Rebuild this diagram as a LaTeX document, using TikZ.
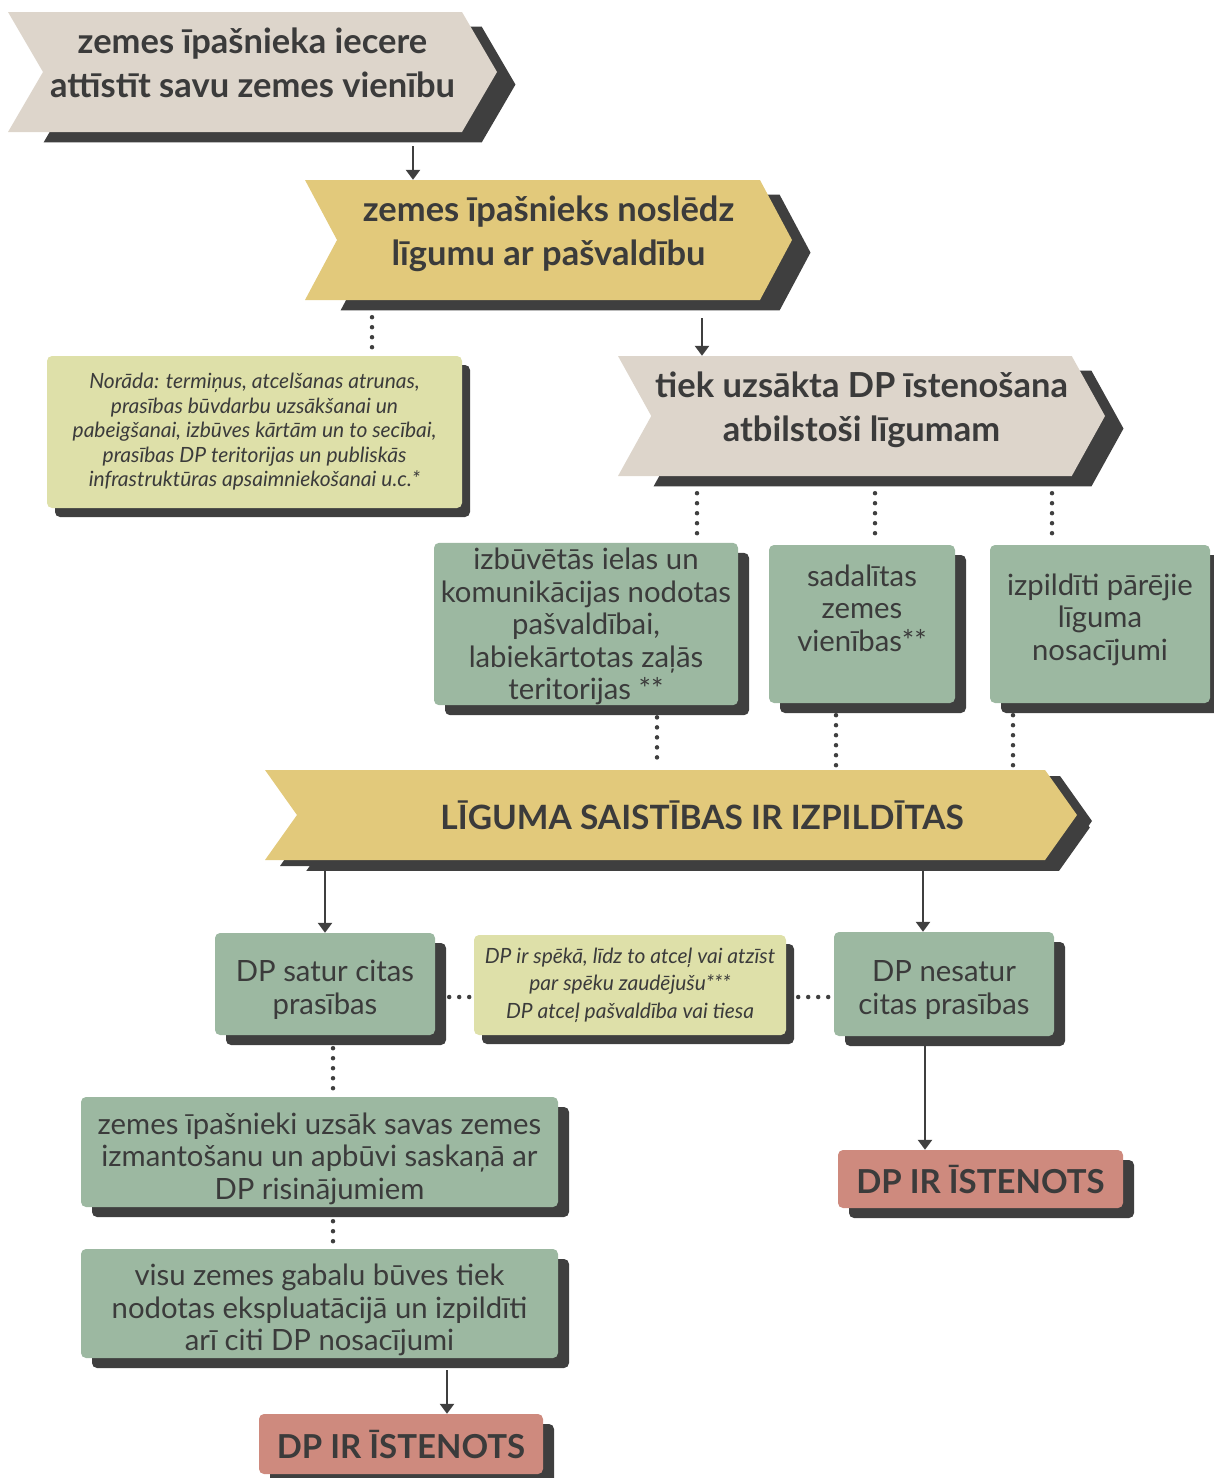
\documentclass[tikz,border=0pt]{standalone}
\usepackage{fontspec}
\setmainfont{Lato}
\usetikzlibrary{shapes.symbols,shadows,arrows.meta}
\definecolor{ink}{HTML}{3B3B3B}
\definecolor{shade}{HTML}{3F3F3F}
\definecolor{sand}{HTML}{DDD5CB}
\definecolor{gold}{HTML}{E2C97B}
\definecolor{sage}{HTML}{9CB8A1}
\definecolor{lime}{HTML}{DEE0A9}
\definecolor{rose}{HTML}{CE8A7E}
\begin{document}
\begin{tikzpicture}[x=1pt, y=-1pt,
  every node/.style={text=ink, inner sep=0pt, align=center},
  chev/.style={signal, signal from=west, signal to=east, text depth=19pt, font=\bfseries\fontsize{34.5}{44}\selectfont,
    general shadow={fill=shade, shadow scale=0.965, shadow xshift=28pt, shadow yshift=-13pt}},
  box/.style={rectangle, rounded corners=5pt, fill=sage, font=\fontsize{29.3}{32.5}\selectfont,
    general shadow={fill=shade, shadow xshift=11pt, shadow yshift=-10pt}},
  note/.style={rectangle, rounded corners=5pt, fill=lime, font=\itshape\fontsize{21}{24.5}\selectfont,
    general shadow={fill=shade, shadow xshift=8pt, shadow yshift=-9pt}},
  done/.style={box, fill=rose, font=\bfseries\fontsize{33}{38}\selectfont},
  arr/.style={draw=shade, line width=2.5pt, -{Triangle[width=14pt,length=10pt]}},
  dotline/.style={draw=shade, line width=4.5pt, line cap=round, dash pattern=on 0pt off 10pt}]
\useasboundingbox (0,0) rectangle (1213,1478);

% chevrons
\node[chev, fill=sand, minimum width=489pt, minimum height=120pt, signal pointer angle=119.5] (c1) at (252.5,72)
  {zemes īpašnieka iecere\\attīstīt savu zemes vienību};
\node[chev, fill=gold, minimum width=487pt, minimum height=120pt, signal pointer angle=123.8] (c2) at (548.5,240)
  {zemes īpašnieks noslēdz\\līgumu ar pašvaldību};
\node[chev, fill=sand, minimum width=487pt, minimum height=120pt, signal pointer angle=122] (c3) at (861.5,416)
  {tiek uzsākta DP īstenošana\\atbilstoši līgumam};
\node[chev, fill=gold, minimum width=812pt, minimum height=90pt, signal pointer angle=109.2,
  general shadow={fill=shade, shadow xshift=15pt, shadow yshift=-6pt},
  label={[font=\bfseries\fontsize{33.5}{38}\selectfont, xshift=31pt]center:LĪGUMA SAISTĪBAS IR IZPILDĪTAS}] (c4) at (671,815) {};

% notes
\node[note, minimum width=415pt, minimum height=152pt] (n1) at (254.5,432)
  {Norāda: termiņus, atcelšanas atrunas,\\prasības būvdarbu uzsākšanai un\\pabeigšanai, izbūves kārtām un to secībai,\\prasības DP teritorijas un publiskās\\infrastruktūras apsaimniekošanai u.c.*};
\node[note, minimum width=312pt, minimum height=100pt, font=\itshape\fontsize{21}{27.5}\selectfont] (n2) at (630,985)
  {DP ir spēkā, līdz to atceļ vai atzīst\\par spēku zaudējušu***\\DP atceļ pašvaldība vai tiesa};

% boxes
\node[box, minimum width=304pt, minimum height=158pt, text height=157pt] (g1) at (586,624)
  {izbūvētās ielas un\\komunikācijas nodotas\\pašvaldībai,\\labiekārtotas zaļās\\teritorijas **};
\node[box, minimum width=186pt, minimum height=158pt] (g2) at (862,624)
  {sadalītas\\zemes\\vienības**\\\mbox{}};
\node[box, minimum width=220pt, minimum height=158pt, text depth=14pt] (g3) at (1100,624)
  {izpildīti pārējie\\līguma\\nosacījumi};
\node[box, minimum width=220pt, minimum height=102pt, text height=65.5pt] (g4) at (325,984)
  {DP satur citas\\prasības};
\node[box, minimum width=220pt, minimum height=104pt, text height=65.5pt] (g5) at (944,984)
  {DP nesatur\\citas prasības};
\node[box, minimum width=477pt, minimum height=110pt, text height=100pt] (g6) at (319.5,1152)
  {zemes īpašnieki uzsāk savas zemes\\izmantošanu un apbūvi saskaņā ar\\DP risinājumiem};
\node[box, minimum width=477pt, minimum height=109pt, text height=100pt] (g7) at (319.5,1303.5)
  {visu zemes gabalu būves tiek\\nodotas ekspluatācijā un izpildīti\\arī citi DP nosacījumi};
\node[done, minimum width=284pt, minimum height=60pt] (r1) at (401,1444) {DP IR ĪSTENOTS};
\node[done, minimum width=285pt, minimum height=58pt] (r2) at (980.5,1179) {DP IR ĪSTENOTS};

% arrows
\draw[arr] ([xshift=160.5pt,yshift=-14pt]c1.south) -- ([xshift=-135.5pt]c2.north);
\draw[arr] ([xshift=153.5pt,yshift=-18pt]c2.south) -- ([xshift=-159.5pt]c3.north);
\draw[arr] ([xshift=-346pt,yshift=-6pt]c4.south) -- (g4.north);
\draw[arr] ([xshift=252pt,yshift=-6pt]c4.south) -- ([xshift=-21pt]g5.north);
\draw[arr] ([xshift=127.5pt,yshift=-12pt]g7.south) -- ([xshift=46pt]r1.north);
\draw[arr] ([xshift=-19pt,yshift=-10pt]g5.south) -- ([xshift=-55.5pt]r2.north);

% dotted links
\draw[dotline] ([xshift=-176.5pt,yshift=-17pt]c2.south) -- ([xshift=117.5pt,yshift=4pt]n1.north);
\draw[dotline] ([xshift=-164.5pt,yshift=-17pt]c3.south) -- ([xshift=111pt,yshift=4pt]g1.north);
\draw[dotline] ([xshift=13.5pt,yshift=-17pt]c3.south) -- ([xshift=13pt,yshift=4pt]g2.north);
\draw[dotline] ([xshift=190.5pt,yshift=-17pt]c3.south) -- ([xshift=-48pt,yshift=4pt]g3.north);
\draw[dotline] ([xshift=71pt,yshift=-12pt]g1.south) -- ([xshift=-14pt,yshift=3pt]c4.north);
\draw[dotline] ([xshift=-26pt,yshift=-12pt]g2.south) -- ([xshift=165pt,yshift=3pt]c4.north);
\draw[dotline] ([xshift=-87pt,yshift=-12pt]g3.south) -- ([xshift=342pt,yshift=3pt]c4.north);
\draw[dotline] ([xshift=14pt,yshift=-13pt]g4.east) -- ([xshift=-4pt,yshift=-12pt]n2.west);
\draw[dotline] ([xshift=12pt,yshift=-12pt]n2.east) -- ([xshift=-4pt,yshift=-13pt]g5.west);
\draw[dotline] ([xshift=8pt,yshift=-13pt]g4.south) -- ([xshift=13.5pt,yshift=4pt]g6.north);
\draw[dotline] ([xshift=13.5pt,yshift=-14pt]g6.south) -- ([xshift=13.5pt,yshift=4pt]g7.north);
\end{tikzpicture}
\end{document}
